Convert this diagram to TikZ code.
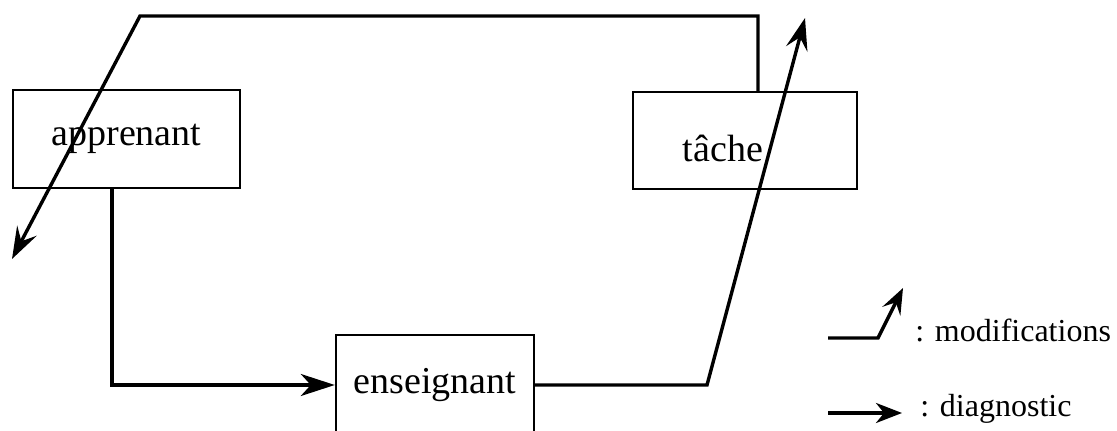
\documentclass[tikz,border=0pt]{standalone}
\usepackage{fontspec}
\setmainfont{Liberation Serif}
\usetikzlibrary{arrows.meta,positioning}

\begin{document}
\begin{tikzpicture}[x=0.5pt,y=-0.5pt,
    box/.style={draw,line width=1.2pt,inner sep=0pt,font=\fontsize{19}{22}\selectfont},
    link/.style={line width=1.7pt},
    diag/.style={-{Stealth[length=17pt,width=11pt,inset=5pt]}},
    modif/.style={-{Stealth[length=16pt,width=11pt,inset=6pt]}},
    legend/.style={inner sep=0pt,anchor=base west,font=\fontsize{16}{19}\selectfont}]
    \useasboundingbox (0,0) rectangle (1117,431);
    % Boxes
    \node[box,minimum width=113.5pt,minimum height=49pt] (apprenant) at (126.5,139) {apprenant};
    \node[box,minimum width=112pt,minimum height=48.5pt] (tache) at (745,140.5) {};
    \node[font=\fontsize{19}{22}\selectfont,inner sep=0pt] (tachetext) at (723,148) {tâche};
    \node[box,minimum width=99pt,minimum height=50pt] (enseignant) at (435,385) {enseignant};
    % Diagnostic: apprenant -> enseignant
    \coordinate (downleft) at (112,385);
    \draw[link,diag] (apprenant.south -| downleft) -- (downleft) -- (enseignant.west);
    % Modifications of the task
    \coordinate (bend) at (707,385);
    \coordinate (tiptask) at (805,18);
    \draw[link,modif] (enseignant.east) -- (bend) -- (tiptask);
    % Modifications of the learner
    \coordinate (topright) at (758,16);
    \coordinate (topleft) at (140,16);
    \coordinate (tiplearner) at (12,259);
    \draw[link,modif] (tache.north -| topright) -- (topright) -- (topleft) -- (tiplearner);
    % Legend
    \coordinate (m0) at (828,338);
    \coordinate (m1) at (878,338);
    \coordinate (m2) at (903,288);
    \draw[link,-{Stealth[length=13pt,width=10pt,inset=5pt]}] (m0) -- (m1) -- (m2);
    \node[legend] (modiftext) at (915,342) {: modifications};
    \coordinate (d0) at (828,413);
    \coordinate (d1) at (902,413);
    \draw[link,-{Stealth[length=13pt,width=10pt,inset=4pt]}] (d0) -- (d1);
    \node[legend] (diagtext) at (920,417) {: diagnostic};
\end{tikzpicture}
\end{document}
